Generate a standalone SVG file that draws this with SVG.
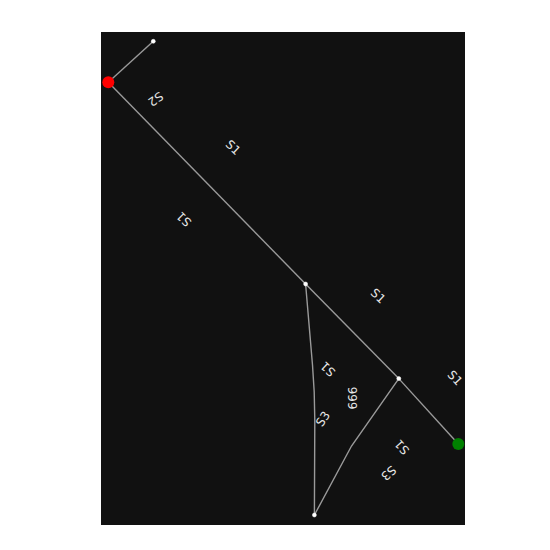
<svg xmlns="http://www.w3.org/2000/svg" width="550" height="550" viewBox="0 0 550 550">
<style>
.bg{fill:#111111}
.edge{fill:none;stroke:#9a9a9a;stroke-width:1.4}
.lbl{font-family:"DejaVu Sans",sans-serif;font-size:12px;fill:#e6e6e6;text-anchor:middle;dominant-baseline:central}
.small{fill:#ffffff;stroke:#ffffff;stroke-width:0.5}
</style>
<rect width="550" height="550" fill="#ffffff"/>
<rect class="bg" x="101" y="32" width="364" height="493"/>
<g id="connectors">
<path class="edge" d="M108.3,82.3 L153.3,41.3"/>
<path class="edge" d="M108.3,82.3 L305.6,284"/>
<path class="edge" d="M305.6,284 L398.8,378.6"/>
<path class="edge" d="M398.8,378.6 L458.3,444"/>
<path class="edge" d="M305.6,284 L312.5,365 Q314.8,392 314.8,420 L314.4,515"/>
<path class="edge" d="M398.8,378.6 L351.5,446 L314.4,515"/>
</g>
<g id="labels">
<text class="lbl" transform="translate(155.5,99) rotate(145)">S2</text>
<text class="lbl" transform="translate(233,147.5) rotate(43)">S1</text>
<text class="lbl" transform="translate(184,219) rotate(225)">S1</text>
<text class="lbl" transform="translate(378,296) rotate(43)">S1</text>
<text class="lbl" transform="translate(328,369) rotate(223)">S1</text>
<text class="lbl" transform="translate(353,398) rotate(-90)">666</text>
<text class="lbl" transform="translate(323,419) rotate(-55)">S3</text>
<text class="lbl" transform="translate(455,378) rotate(47)">S1</text>
<text class="lbl" transform="translate(402,447) rotate(228)">S1</text>
<text class="lbl" transform="translate(388.5,473) rotate(138)">S3</text>
</g>
<g id="node-a"><circle cx="108.3" cy="82.3" r="6" fill="#ff0000"/></g>
<g id="node-b"><circle class="small" cx="153.3" cy="41.3" r="2"/></g>
<g id="node-c"><circle class="small" cx="305.6" cy="284" r="2"/></g>
<g id="node-d"><circle class="small" cx="398.8" cy="378.6" r="2"/></g>
<g id="node-e"><circle cx="458.3" cy="444" r="6" fill="#008000"/></g>
<g id="node-f"><circle class="small" cx="314.4" cy="515" r="2"/></g>
</svg>
